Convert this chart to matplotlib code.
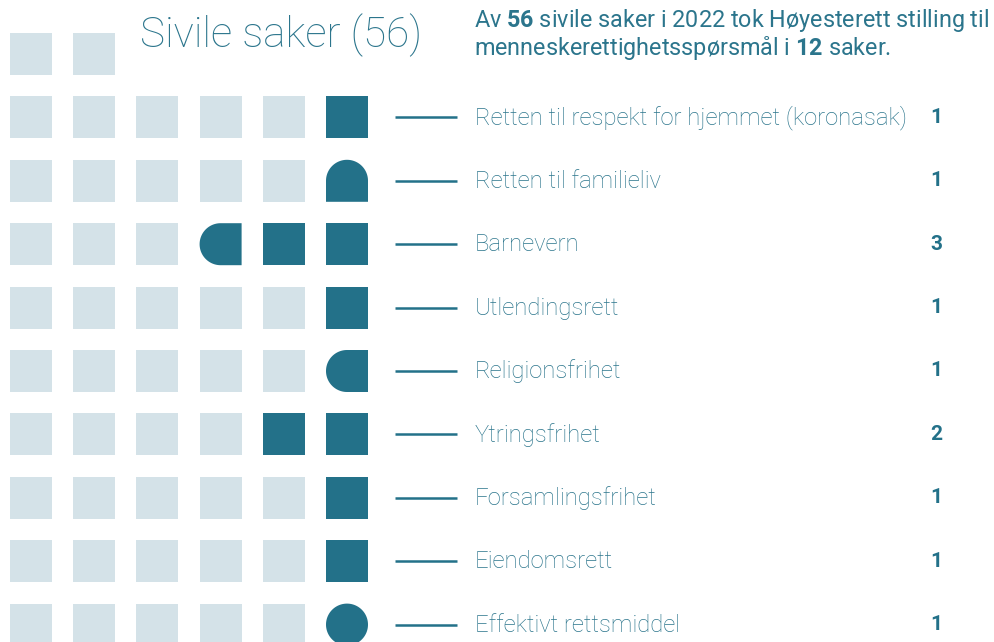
import matplotlib
matplotlib.use("Agg")
import matplotlib.pyplot as plt
from matplotlib.patches import Polygon
import numpy as np

plt.rcParams["mathtext.fontset"] = "custom"
plt.rcParams["mathtext.rm"] = "Roboto"
plt.rcParams["mathtext.bf"] = "Roboto:bold"

# ---- data ----
total_cases = 56
hr_cases = 12
year = 2022
categories = [
    "Retten til respekt for hjemmet (koronasak)",
    "Retten til familieliv",
    "Barnevern",
    "Utlendingsrett",
    "Religionsfrihet",
    "Ytringsfrihet",
    "Forsamlingsfrihet",
    "Eiendomsrett",
    "Effektivt rettsmiddel",
]
counts = [1, 1, 3, 1, 1, 2, 1, 1, 1]
# shape of each dark cell, from left to right within its row
cell_shapes = [
    ["square"],
    ["round_top"],
    ["round_left", "square", "square"],
    ["square"],
    ["round_left"],
    ["square", "square"],
    ["square"],
    ["square"],
    ["circle"],
]
n_cols = 6
top_row_cells = total_cases - n_cols * len(categories)  # 2

# ---- style ----
DARK = "#237189"
LIGHT = "#D4E2E8"
TEXT = "#2B758C"
W, H = 994, 642
S = 42.0          # cell size (px)
PX = 63.2         # column pitch
PY = 63.4         # row pitch
X0 = 10.0         # left of first column
Y0 = 33.0         # top of top row

fig = plt.figure(figsize=(W / 100, H / 100), dpi=100)
ax = fig.add_axes([0, 0, 1, 1])
ax.set_xlim(0, W)
ax.set_ylim(H, 0)
ax.axis("off")


def shape_poly(kind, x, y, s, color):
    r = s / 2
    cx, cy = x + r, y + r
    if kind == "square":
        pts = [(x, y), (x + s, y), (x + s, y + s), (x, y + s)]
    elif kind == "circle":
        t = np.linspace(0, 2 * np.pi, 100)
        pts = np.column_stack([cx + r * np.cos(t), cy + r * np.sin(t)])
    elif kind == "round_top":
        t = np.linspace(np.pi, 2 * np.pi, 60)
        arc = np.column_stack([cx + r * np.cos(t), cy + r * np.sin(t)])
        pts = np.vstack([arc, [(x + s, y + s), (x, y + s)]])
    elif kind == "round_left":
        t = np.linspace(np.pi / 2, 3 * np.pi / 2, 60)
        arc = np.column_stack([cx + r * np.cos(t), cy + r * np.sin(t)])
        pts = np.vstack([arc, [(x + s, y), (x + s, y + s)]])
    return Polygon(pts, closed=True, facecolor=color, edgecolor="none", antialiased=True)


# top row (light cells only)
for c in range(top_row_cells):
    ax.add_patch(shape_poly("square", X0 + c * PX, Y0, S, LIGHT))

for i, (cat, n, shapes) in enumerate(zip(categories, counts, cell_shapes)):
    ytop = Y0 + (i + 1) * PY
    ymid = ytop + S / 2
    n_light = n_cols - n
    for c in range(n_cols):
        x = X0 + c * PX
        if c < n_light:
            ax.add_patch(shape_poly("square", x, ytop, S, LIGHT))
        else:
            ax.add_patch(shape_poly(shapes[c - n_light], x, ytop, S, DARK))
    ax.plot([395, 457], [ymid, ymid], color=DARK, lw=1.8, solid_capstyle="butt")
    ax.text(475, ymid + 0.5, cat, fontsize=17.2, family="Roboto", fontweight="light",
            color=TEXT, va="center", ha="left")
    ax.text(936, ymid, str(n), fontsize=15, family="Roboto", fontweight="bold",
            color=DARK, va="center", ha="center")

ax.text(140, 35, f"Sivile saker ({total_cases})", fontsize=30.3, family="Roboto",
        fontweight="light", color=TEXT, va="center", ha="left")

ax.text(474, 21,
        rf"Av $\mathbf{{{total_cases}}}$ sivile saker i {year} tok Høyesterett stilling til",
        fontsize=16.8, family="Roboto", color=TEXT, va="center", ha="left")
ax.text(474, 48,
        rf"menneskerettighetsspørsmål i $\mathbf{{{hr_cases}}}$ saker.",
        fontsize=16.8, family="Roboto", color=TEXT, va="center", ha="left")

fig.savefig("out.png", dpi=100)
